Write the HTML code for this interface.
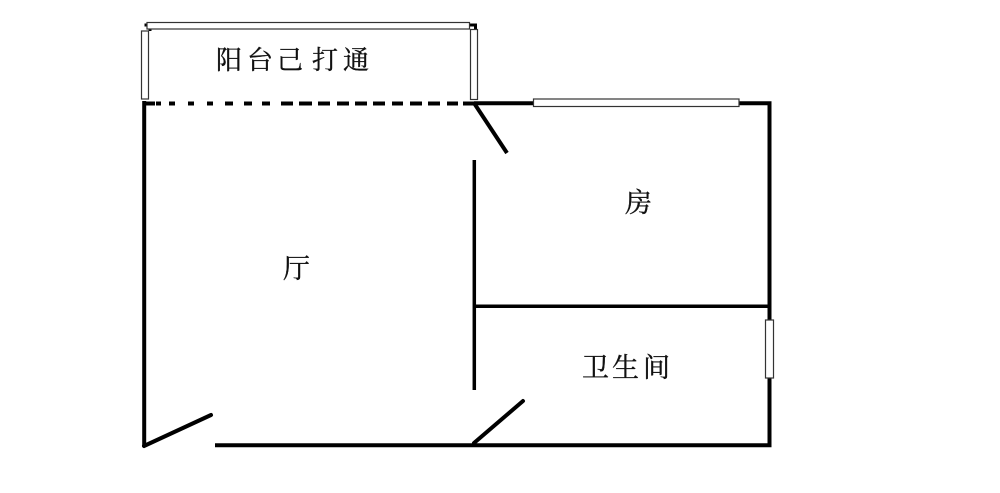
<!DOCTYPE html>
<html><head><meta charset="utf-8"><style>
html,body{margin:0;padding:0;background:#fff}
svg{display:block}
text{font-family:"Liberation Serif","Noto Serif CJK SC",serif;fill:#111;stroke:#111;stroke-width:.35}
</style></head><body>
<svg width="1000" height="493" viewBox="0 0 1000 493" xmlns="http://www.w3.org/2000/svg">
<rect width="1000" height="493" fill="#fff"/>
<g stroke="#000" stroke-width="4" fill="none">
<path d="M144.200 101V447"/>
<path d="M474 103.300H769.500V447M771.500 445.200H215"/>
<path d="M474.300 160V390" stroke-width="3.500"/>
<path d="M474 306.200H769" stroke-width="3.500"/>
<path d="M144 446L211 415" stroke-linecap="round"/>
<path d="M474 443L523 401" stroke-linecap="round"/>
<path d="M474 103L507 153"/>
<path d="M145 103.500H155M156 103.500H161M169 103.500H175M188 103.500H194M207 103.500H213M225 103.500H233M244 103.500H252M262 103.500H270M281 103.500H293M299 103.500H312M318 103.500H330M337 103.500H349M355 103.500H367M373 103.500H385M392 103.500H403M410 103.500H422M428 103.500H440M447 103.500H458M463 103.500H474"/>
<path d="M144.500 25H150V31M469 25H475.500V30" stroke-width="3"/>
</g>
<g fill="#fff" stroke="#333" stroke-width="1.200">
<rect x="147" y="22.500" width="322.500" height="6.500"/>
<rect x="141.500" y="31" width="7" height="68"/>
<rect x="470.500" y="29.500" width="7" height="70"/>
<rect x="533.500" y="99" width="205.500" height="7.500"/>
<rect x="765.500" y="320" width="8" height="58"/>
</g>
<g font-size="26">
<text x="216" y="69">阳</text>
<text x="247" y="69">台</text>
<text x="277" y="69">己</text>
<text x="312" y="69">打</text>
<text x="343" y="69">通</text>
<text x="625" y="212" font-size="27">房</text>
<text x="283" y="278" font-size="27">厅</text>
<text x="582" y="377" font-size="27">卫</text>
<text x="612" y="377" font-size="27">生</text>
<text x="643" y="377" font-size="27">间</text>
</g>
</svg>
</body></html>
